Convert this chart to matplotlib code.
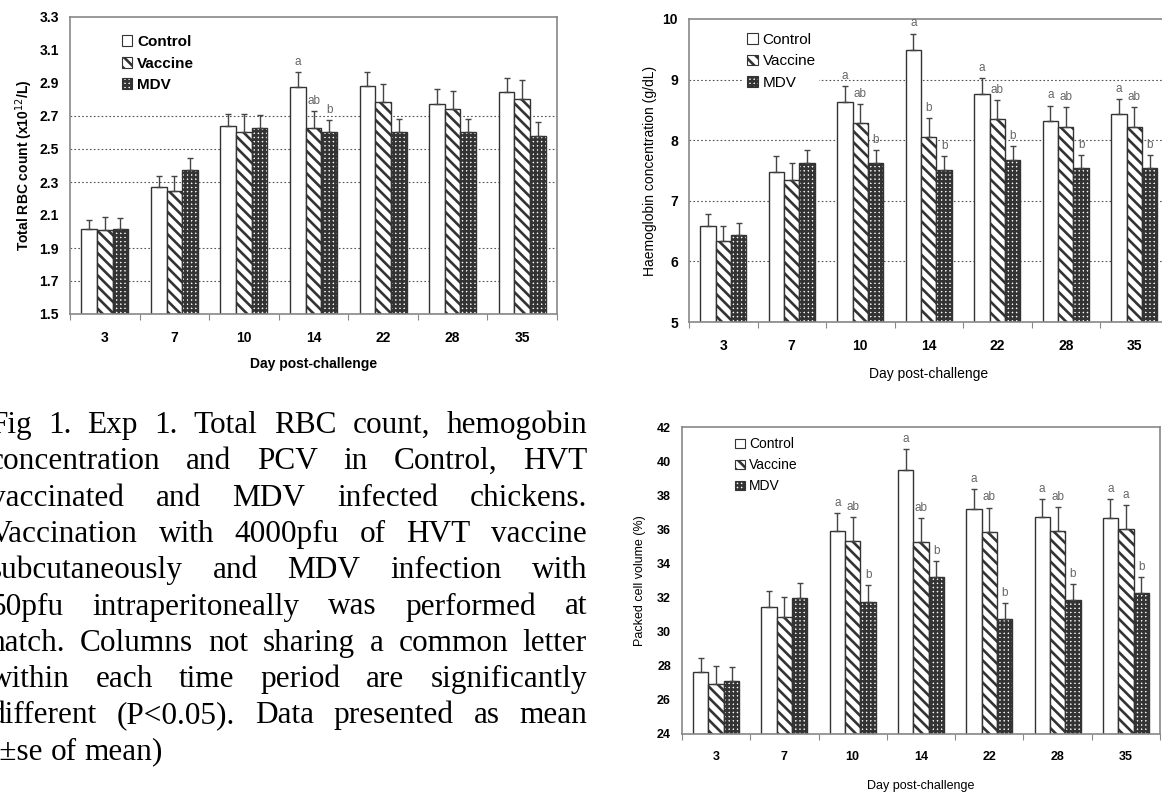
import numpy as np
import matplotlib
matplotlib.use('Agg')
import matplotlib.pyplot as plt
from matplotlib.patches import Patch
from matplotlib.transforms import Affine2D

days = ['3', '7', '10', '14', '22', '28', '35']
groups = ['Control', 'Vaccine', 'MDV']

# total RBC count (x10^12/L)
rbc_control = [2.015, 2.27, 2.64, 2.875, 2.88, 2.77, 2.845]
rbc_control_se = [0.055, 0.066, 0.075, 0.089, 0.087, 0.091, 0.087]
rbc_vaccine = [2.01, 2.245, 2.605, 2.63, 2.785, 2.745, 2.805]
rbc_vaccine_se = [0.08, 0.09, 0.107, 0.10, 0.111, 0.109, 0.113]
rbc_mdv = [2.015, 2.375, 2.63, 2.60, 2.60, 2.60, 2.58]
rbc_mdv_se = [0.065, 0.072, 0.075, 0.077, 0.079, 0.079, 0.083]
rbc_letters = [['', '', '', 'a', '', '', ''],
               ['', '', '', 'ab', '', '', ''],
               ['', '', '', 'b', '', '', '']]

# haemoglobin (g/dL)
hb_control = [6.58, 7.48, 8.63, 9.49, 8.76, 8.32, 8.43]
hb_control_se = [0.20, 0.26, 0.26, 0.27, 0.26, 0.25, 0.25]
hb_vaccine = [6.34, 7.34, 8.28, 8.06, 8.35, 8.22, 8.22]
hb_vaccine_se = [0.24, 0.29, 0.32, 0.30, 0.31, 0.33, 0.32]
hb_mdv = [6.43, 7.62, 7.62, 7.51, 7.68, 7.54, 7.54]
hb_mdv_se = [0.21, 0.22, 0.22, 0.23, 0.22, 0.22, 0.22]
hb_letters = [['', '', 'a', 'a', 'a', 'a', 'a'],
              ['', '', 'ab', 'b', 'ab', 'ab', 'ab'],
              ['', '', 'b', 'b', 'b', 'b', 'b']]

# packed cell volume (%)
pcv_control = [27.61, 31.47, 35.92, 39.47, 37.20, 36.73, 36.64]
pcv_control_se = [0.84, 0.94, 1.05, 1.23, 1.17, 1.06, 1.11]
pcv_vaccine = [26.94, 30.85, 35.33, 35.23, 35.82, 35.88, 36.04]
pcv_vaccine_se = [1.06, 1.16, 1.40, 1.41, 1.46, 1.44, 1.40]
pcv_mdv = [27.08, 31.96, 31.76, 33.18, 30.73, 31.84, 32.25]
pcv_mdv_se = [0.84, 0.92, 0.96, 0.98, 0.93, 0.94, 0.93]
pcv_letters = [['', '', 'a', 'a', 'a', 'a', 'a'],
               ['', '', 'ab', 'ab', 'ab', 'ab', 'a'],
               ['', '', 'b', 'b', 'b', 'b', 'b']]

caption = [
    'Fig 1. Exp 1. Total RBC count, hemogobin',
    'concentration and PCV in Control, HVT',
    'vaccinated and MDV infected chickens.',
    'Vaccination with 4000pfu of HVT vaccine',
    'subcutaneously and MDV infection with',
    '50pfu intraperitoneally was performed at',
    'hatch. Columns not sharing a common letter',
    'within each time period are significantly',
    'different (P<0.05). Data presented as mean',
    '(\u00b1se of mean)',
]

plt.rcParams['font.family'] = 'Liberation Sans'
plt.rcParams['hatch.linewidth'] = 1.9

W, H = 1162, 794
fig = plt.figure(figsize=(W / 100, H / 100), dpi=100)

hatches = ['', '\\\\\\', '++++']
edge = '#333333'
bw = 0.225


def panel(rect, means, ses, letters, yticks, ylabel, bold, fs, grid, leg_pos, ylpad):
    l, t, r, b = rect
    ax = fig.add_axes([l / W, 1 - b / H, (r - l) / W, (b - t) / H])
    x = np.arange(len(days))
    for g in grid:
        ax.axhline(g, color='#555555', lw=0.8, ls=(0, (1.5, 2)), zorder=0.5)
    for k in range(3):
        xs = x + (k - 1) * bw
        ax.bar(xs, np.array(means[k]) - yticks[0], bw, bottom=yticks[0],
               facecolor='white', edgecolor=edge, hatch=hatches[k], lw=1, zorder=2)
        ax.errorbar(xs, means[k], yerr=[np.zeros(len(days)), ses[k]], fmt='none',
                    ecolor='#444444', elinewidth=1, capsize=2.5, capthick=1, zorder=3)
        for xi, m, s, lab in zip(xs, means[k], ses[k], letters[k]):
            if lab:
                ax.annotate(lab, (xi, m + s), xytext=(0, 3), textcoords='offset points',
                            ha='center', va='bottom', fontsize=8.5, color='#666666')
    weight = 'bold' if bold else 'normal'
    ax.set_xlim(-0.5, len(days) - 0.5)
    ax.set_ylim(yticks[0], yticks[-1])
    ax.set_xticks(np.arange(len(days) + 1) - 0.5)
    ax.set_xticklabels([])
    ax.set_xticks(x, minor=True)
    ax.set_xticklabels(days, minor=True, fontsize=fs, fontweight='bold')
    ax.tick_params(axis='x', which='major', direction='out', length=4, color='#888888')
    ax.tick_params(axis='x', which='minor', length=0, pad=12)
    ax.set_yticks(yticks)
    fmt = '{:.1f}' if yticks[1] - yticks[0] < 1 else '{:g}'
    ax.set_yticklabels([fmt.format(v) for v in yticks], fontsize=fs, fontweight='bold')
    ax.tick_params(axis='y', length=0, pad=8)
    for s in ax.spines.values():
        s.set_color('#888888')
        s.set_linewidth(1.2)
    ax.text(0.5, -0.17, 'Day post-challenge', transform=ax.transAxes, ha='center',
            va='center', fontsize=fs, fontweight=weight)
    ax.set_ylabel(ylabel, fontsize=fs, fontweight=weight, labelpad=ylpad)
    handles = [Patch(facecolor='white', edgecolor=edge, hatch=h, lw=0.8) for h in hatches]
    ax.legend(handles, groups, loc='upper left', bbox_to_anchor=leg_pos, frameon=True,
              facecolor='white', edgecolor='none', framealpha=1, borderpad=0.2,
              handlelength=0.7, handleheight=0.7, handletextpad=0.3, labelspacing=0.5,
              prop={'size': fs + 1, 'weight': weight}, borderaxespad=0)
    return ax


panel((70, 17, 557, 314),
      [rbc_control, rbc_vaccine, rbc_mdv], [rbc_control_se, rbc_vaccine_se, rbc_mdv_se],
      rbc_letters, [1.5, 1.7, 1.9, 2.1, 2.3, 2.5, 2.7, 2.9, 3.1, 3.3],
      'Total RBC count (x10$^{12}$/L)', True, 10, [1.7, 1.9, 2.3, 2.5, 2.7], (0.1, 0.95), 3)
panel((689, 19, 1168.5, 322),
      [hb_control, hb_vaccine, hb_mdv], [hb_control_se, hb_vaccine_se, hb_mdv_se],
      hb_letters, [5, 6, 7, 8, 9, 10],
      'Haemoglobin concentration (g/dL)', False, 10, [6, 7, 8, 9], (0.115, 0.965), 4)
panel((682, 427, 1160, 734),
      [pcv_control, pcv_vaccine, pcv_mdv], [pcv_control_se, pcv_vaccine_se, pcv_mdv_se],
      pcv_letters, list(range(24, 43, 2)),
      'Packed cell volume (%)', False, 9, [], (0.105, 0.975), 8)

# justified caption in the lower left, pixel coordinates from the top
px = Affine2D().scale(1 / W, -1 / H).translate(0, 1) + fig.transFigure
renderer = fig.canvas.get_renderer()
x0, x1 = -10, 587
for i, line in enumerate(caption):
    y = 433 + i * 36.3
    words = line.split()
    texts = [fig.text(0, y, w, transform=px, fontsize=22.5, family='Liberation Serif',
                      va='baseline', ha='left') for w in words]
    widths = [t.get_window_extent(renderer).width for t in texts]
    if i < len(caption) - 1:
        gap = (x1 - x0 - sum(widths)) / (len(words) - 1)
    else:
        gap = texts[0].get_window_extent(renderer).height * 0.25
    pos = x0
    for t, w in zip(texts, widths):
        t.set_x(pos)
        pos += w + gap

fig.savefig('out.png', dpi=100)
